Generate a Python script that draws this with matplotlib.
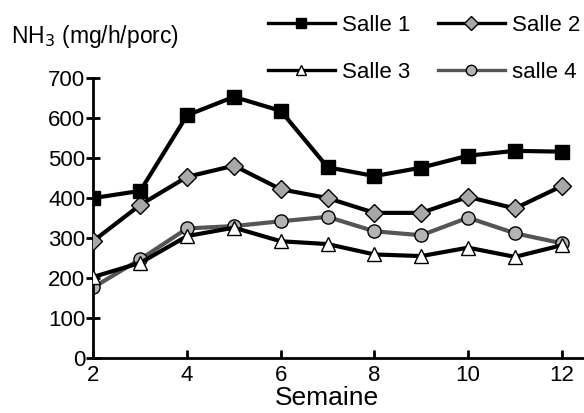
import matplotlib
matplotlib.use("Agg")
import matplotlib.pyplot as plt
from matplotlib.lines import Line2D

plt.rcParams['font.family'] = ['Liberation Sans', 'DejaVu Sans']

# data
semaine = [2, 3, 4, 5, 6, 7, 8, 9, 10, 11, 12]
salle1 = [400, 418, 607, 653, 618, 477, 455, 476, 506, 518, 516]
salle2 = [293, 383, 453, 481, 422, 400, 363, 363, 403, 374, 430]
salle3 = [203, 238, 305, 326, 292, 285, 259, 255, 276, 253, 282]
salle4 = [177, 247, 324, 330, 342, 353, 317, 307, 351, 312, 287]
yticks = [0, 100, 200, 300, 400, 500, 600, 700]
xticks = [2, 4, 6, 8, 10, 12]

fig = plt.figure(figsize=(5.84, 4.13), dpi=100)
ax = fig.add_axes([0.16, 0.133, 0.838, 0.678])

styles = {
    'Salle 1': dict(color='black', marker='s', mfc='black', mec='black'),
    'Salle 2': dict(color='black', marker='D', mfc='#a8a8a8', mec='black'),
    'Salle 3': dict(color='black', marker='^', mfc='white', mec='black'),
    'salle 4': dict(color='#555555', marker='o', mfc='#b4b4b4', mec='black'),
}

ax.plot(semaine, salle1, lw=3, ms=10, zorder=4, **styles['Salle 1'])
ax.plot(semaine, salle2, lw=3, ms=9, mew=1, zorder=3, **styles['Salle 2'])
ax.plot(semaine, salle4, lw=3, ms=9.5, mew=1, zorder=2, **styles['salle 4'])
ax.plot(semaine, salle3, lw=3, ms=10, mew=1, zorder=3, **styles['Salle 3'])

ax.set_xlim(2, 12.45)
ax.set_ylim(0, 700)
ax.set_xticks(xticks)
ax.set_yticks(yticks)
for s in ['top', 'right']:
    ax.spines[s].set_visible(False)
ax.spines['left'].set_linewidth(2)
ax.spines['bottom'].set_linewidth(2)
ax.tick_params(axis='y', direction='inout', length=9.5, width=2,
               labelsize=16, pad=1)
ax.tick_params(axis='x', direction='in', length=6, width=2,
               labelsize=16, pad=5)
ax.set_xlabel('Semaine', fontsize=19, labelpad=0.3)
ax.xaxis.label.set_x(0.478)
fig.text(0.019, 0.912, 'NH$_3$ (mg/h/porc)', fontsize=16.5,
         ha='left', va='center')

# smaller handles in the legend, as in the reference
order = ['Salle 1', 'Salle 3', 'Salle 2', 'salle 4']
sizes = {'Salle 1': 7.5, 'Salle 2': 7.5, 'Salle 3': 7, 'salle 4': 7.5}
handles = [Line2D([], [], lw=2.4, ms=sizes[k], mew=1, **styles[k])
           for k in order]
fig.legend(handles, order, loc='upper left',
           bbox_to_anchor=(268 / 584, 1 - 15 / 413), ncol=2,
           frameon=False, fontsize=16, handlelength=3.0,
           handletextpad=0.32, columnspacing=1.25, labelspacing=1.18,
           borderpad=0, borderaxespad=0)

plt.savefig('out.png', dpi=100)
